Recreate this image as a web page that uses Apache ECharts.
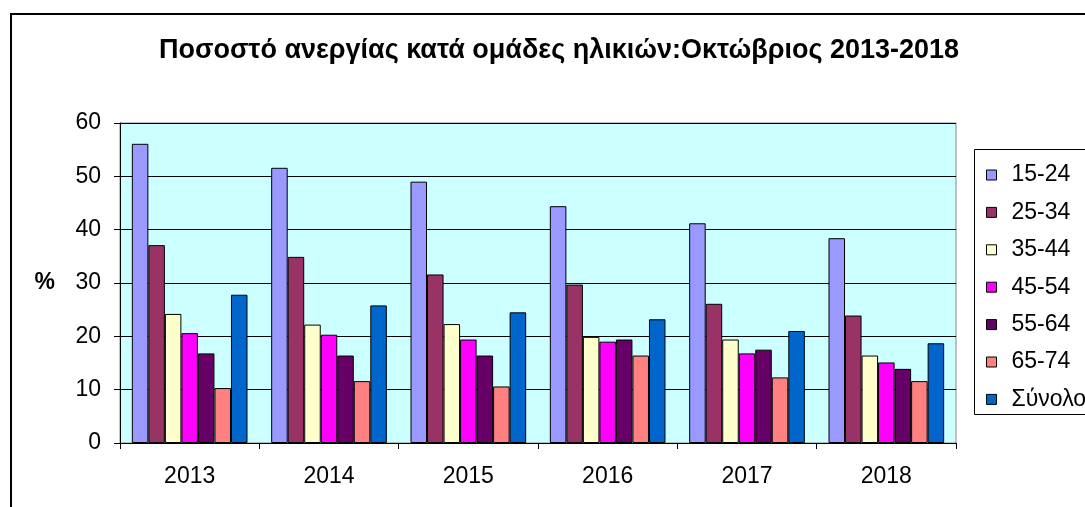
<!DOCTYPE html>
<html>
<head>
<meta charset="utf-8">
<script src="https://cdn.jsdelivr.net/npm/echarts@6/dist/echarts.min.js"></script>
<style>
  html, body { margin: 0; padding: 0; background: #fff; }
  #main { width: 1085px; height: 507px; }
</style>
</head>
<body>
<div id="main"></div>
<script>
var years = ['2013', '2014', '2015', '2016', '2017', '2018']
var groups = ['15-24', '25-34', '35-44', '45-54', '55-64', '65-74', 'Σύνολο']
var colors = ['#9999FF', '#993366', '#FFFFCC', '#FF00FF', '#660066', '#FF8080', '#0066CC']

var age15 = [56.1, 51.6, 49.0, 44.4, 41.2, 38.4]
var age25 = [37.1, 34.9, 31.6, 29.7, 26.1, 23.9]
var age35 = [24.2, 22.2, 22.3, 19.9, 19.4, 16.4]
var age45 = [20.6, 20.3, 19.4, 19.0, 16.8, 15.1]
var age55 = [16.8, 16.4, 16.4, 19.4, 17.5, 13.9]
var age65 = [10.3, 11.6, 10.6, 16.4, 12.3, 11.6]
var total = [27.8, 25.8, 24.5, 23.2, 21.0, 18.7]

var values = [age15, age25, age35, age45, age55, age65, total]

var font = 'Liberation Sans, Arial, sans-serif'
var myChart = echarts.init(document.getElementById('main'))

var series = groups.map(function(name, i) {
  return {
    name: name,
    type: 'bar',
    data: values[i],
    barGap: '0%',
    barCategoryGap: '17%',
    itemStyle: {
      color: colors[i],
      borderColor: '#000',
      borderWidth: 1
    }
  }
})

myChart.setOption({
  animation: false,
  title: {
    text: 'Ποσοστό ανεργίας κατά ομάδες ηλικιών:Οκτώβριος 2013-2018',
    left: 554,
    textAlign: 'center',
    top: 32,
    textStyle: {
      fontFamily: font,
      fontSize: 27,
      fontWeight: 'bold',
      color: '#000'
    }
  },
  graphic: [{
    type: 'rect',
    shape: { x: 11, y: 14, width: 1100, height: 520 },
    style: { fill: 'none', stroke: '#000', lineWidth: 2 },
    z: 0
  }, {
    type: 'rect',
    shape: { x: 974.5, y: 149.5, width: 140, height: 265 },
    style: { fill: '#fff', stroke: '#000', lineWidth: 1 },
    z: 1
  }],
  legend: {
    orient: 'vertical',
    left: 981,
    top: 157,
    itemGap: 11.4,
    itemWidth: 10,
    itemHeight: 10,
    icon: 'rect',
    z: 5,
    itemStyle: { borderColor: '#000', borderWidth: 1 },
    textStyle: {
      fontFamily: font,
      fontSize: 23,
      lineHeight: 26,
      color: '#000',
      padding: [0, 0, 0, 10]
    },
    data: groups
  },
  grid: {
    left: 120,
    right: 129,
    top: 123,
    bottom: 64,
    show: true,
    backgroundColor: '#CCFFFF',
    borderColor: '#888',
    borderWidth: 1
  },
  xAxis: {
    type: 'category',
    data: years,
    axisLine: { lineStyle: { color: '#000', width: 1 } },
    axisTick: { show: true, length: 6, lineStyle: { color: '#000' } },
    axisLabel: {
      fontFamily: font,
      fontSize: 23,
      color: '#000',
      margin: 22
    }
  },
  yAxis: {
    type: 'value',
    min: 0,
    max: 60,
    interval: 10,
    name: '%',
    nameLocation: 'middle',
    nameRotate: 0,
    nameGap: 65,
    nameTextStyle: {
      fontFamily: font,
      fontSize: 23,
      fontWeight: 'bold',
      color: '#000'
    },
    axisLine: { show: true, lineStyle: { color: '#000', width: 1 } },
    axisTick: { show: true, length: 6, lineStyle: { color: '#000' } },
    splitLine: { lineStyle: { color: '#000', width: 1 } },
    axisLabel: {
      fontFamily: font,
      fontSize: 23,
      color: '#000',
      margin: 19
    }
  },
  series: series
})
</script>
</body>
</html>
